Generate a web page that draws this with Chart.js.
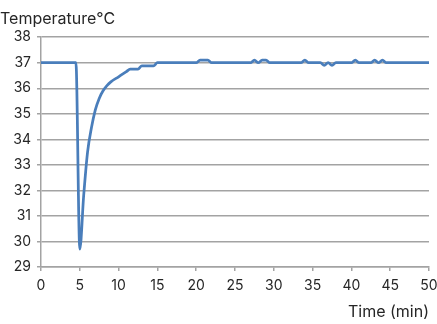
<!DOCTYPE html>
<html>
<head>
<meta charset="utf-8">
<script src="https://cdn.jsdelivr.net/npm/chart.js@4/dist/chart.umd.min.js"></script>
<style>
  html, body { margin: 0; padding: 0; background: #fff; }
  #wrap { width: 437px; height: 324px; position: relative; }
</style>
</head>
<body>
<div id="wrap"><canvas id="c" width="437" height="324"></canvas></div>
<script>
const yAxisLabel = "Temperature°C";
const xAxisLabel = "Time (min)";
const times = [0, 4.5, 5, 5.5, 6, 6.5, 7, 7.5, 8, 8.5, 9, 10, 11, 11.5, 12.5, 13, 14.5, 15,
  20, 20.5, 21.5, 22, 27, 27.5, 28, 28.5, 29, 29.5, 33.5, 34, 34.5,
  36, 36.5, 37, 37.5, 38, 40, 40.5, 41, 42.5, 43, 43.5, 44, 44.5, 50];
const temps = [37, 37, 29.7, 31.8, 33.5, 34.45, 35.15, 35.6, 35.9, 36.1, 36.25, 36.45, 36.65, 36.75, 36.75, 36.88, 36.88, 37,
  37, 37.1, 37.1, 37, 37, 37.1, 37.0, 37.1, 37.1, 37, 37, 37.1, 37,
  37, 36.9, 37.0, 36.9, 37, 37, 37.1, 37, 37, 37.1, 37.0, 37.1, 37, 37];
const xTicks = [0, 5, 10, 15, 20, 25, 30, 35, 40, 45, 50];
const yTicks = [29, 30, 31, 32, 33, 34, 35, 36, 37, 38];

const points = times.map((t, i) => ({ x: t, y: temps[i] }));
const FONT = "Inter";
const gridColor = "#a3a3a3";
const textColor = "#262626";

new Chart(document.getElementById("c"), {
  type: "line",
  data: {
    datasets: [{
      data: points,
      borderColor: "#4a7ebb",
      borderWidth: 2.75,
      pointRadius: 0,
      fill: false,
      cubicInterpolationMode: "monotone"
    }]
  },
  options: {
    responsive: false,
    animation: false,
    devicePixelRatio: 1,
    layout: { padding: { left: 0, right: 0, top: 0, bottom: 0 } },
    plugins: {
      legend: { display: false },
      tooltip: { enabled: false },
      title: {
        display: true,
        text: yAxisLabel,
        align: "start",
        color: textColor,
        font: { family: FONT, size: 16, weight: "normal" },
        padding: { top: 10, bottom: 8 }
      }
    },
    scales: {
      x: {
        type: "linear",
        min: 0, max: 50,
        afterBuildTicks: s => { s.ticks = xTicks.map(v => ({ value: v })); },
        afterFit: s => { s.height = 57; s.paddingRight = 8; s.paddingLeft = 0; },
        ticks: { color: textColor, font: { family: FONT, size: 14 }, padding: 6, maxRotation: 0 },
        grid: { drawOnChartArea: false, drawTicks: true, tickLength: 4, color: gridColor, lineWidth: 1.5 },
        border: { display: true, color: gridColor, width: 1.5 },
        title: { display: true, text: xAxisLabel, align: "end", color: textColor,
                 font: { family: FONT, size: 16 }, padding: { top: 0, bottom: 2 } }
      },
      y: {
        type: "linear",
        min: 29, max: 38,
        afterBuildTicks: s => { s.ticks = yTicks.map(v => ({ value: v })); },
        afterFit: s => { s.width = 41; },
        ticks: { color: textColor, font: { family: FONT, size: 14 }, padding: 6 },
        grid: { drawOnChartArea: true, drawTicks: true, tickLength: 4, color: gridColor, lineWidth: 1.5 },
        border: { display: true, color: gridColor, width: 1.5 }
      }
    }
  }
});
</script>
</body>
</html>
